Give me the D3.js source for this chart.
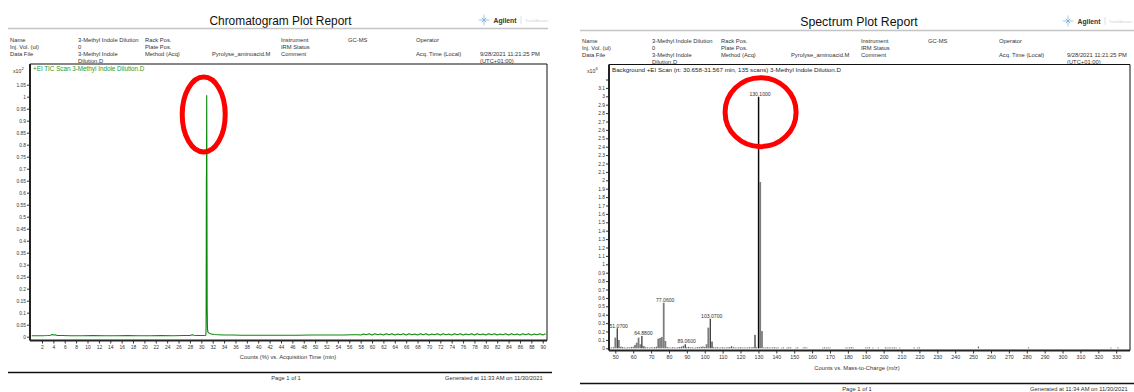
<!DOCTYPE html>
<html><head><meta charset="utf-8">
<script src="https://cdn.jsdelivr.net/npm/d3@7"></script>
<style>
html,body{margin:0;padding:0;background:#fff;}
svg{display:block;}
text{font-family:"Liberation Sans",Arial,sans-serif;}
</style></head><body>
<svg id="page" width="1134" height="392"></svg>
<script>
// ---------- report text ----------
const chromTitle = "Chromatogram Plot Report";
const specTitle = "Spectrum Plot Report";
// [column, row, text]
const headerCells = [
  [0,0,"Name"],[1,0,"3-Methyl Indole Dilution"],[2,0,"Rack Pos."],[4,0,"Instrument"],[5,0,"GC-MS"],[6,0,"Operator"],
  [0,1,"Inj. Vol. (ul)"],[1,1,"0"],[2,1,"Plate Pos."],[4,1,"IRM Status"],
  [0,2,"Data File"],[1,2,"3-Methyl Indole"],[2,2,"Method (Acq)"],[3,2,"Pyrolyse_aminoacid.M"],[4,2,"Comment"],[6,2,"Acq. Time (Local)"],[7,2,"9/28/2021 11:21:25 PM"],
  [1,3,"Dilution.D"],[7,3,"(UTC+01:00)"]
];
const chromLegend = "+EI TIC Scan 3-Methyl Indole Dilution.D";
const specLegend = "Background  +EI Scan (rt: 30.658-31.567 min, 135 scans) 3-Methyl Indole Dilution.D";
const chromXTitle = "Counts (%) vs. Acquisition Time (min)";
const specXTitle = "Counts vs. Mass-to-Charge (m/z)";
const chromFooter = ["Page 1 of 1", "Generated at 11:33 AM on 11/30/2021"];
const specFooter = ["Page 1 of 1", "Generated at 11:34 AM on 11/30/2021"];

// ---------- TIC chromatogram (counts ×10², %) ----------
const ticTime = [0.2,1,2,3,3.5,3.8,4.0,4.3,4.7,5.5,7,9,11,13,15,17,19,21,23,25,27,28,28.4,28.7,29.2,30,30.5,30.8,30.84,30.87,30.89,30.91,30.95,30.99,31.03,31.08,31.15,31.3,31.6,32.2,33,34,35.5,37,39,41,43,45,47,49,51,53,55,56.5,57.5,
  58,58.5,59,59.5,60,60.5,61,61.5,62,62.5,63,63.5,64,64.5,65,65.5,66,66.5,67,67.5,68,68.5,69,69.5,70,70.5,71,71.5,72,72.5,73,73.5,74,74.5,75,75.5,76,76.5,77,77.5,78,78.5,79,79.5,80,80.5,81,81.5,82,82.5,83,83.5,84,84.5,85,85.5,86,86.5,87,87.5,88,88.5,89,89.5,90,90.5];
const ticValue = [0.004,0.004,0.004,0.005,0.006,0.009,0.007,0.008,0.005,0.005,0.004,0.004,0.005,0.004,0.004,0.005,0.004,0.004,0.005,0.004,0.005,0.005,0.008,0.006,0.005,0.005,0.005,0.006,0.04,0.35,0.66,0.68,1.005,0.55,0.12,0.035,0.02,0.016,0.012,0.009,0.008,0.007,0.007,0.006,0.006,0.006,0.006,0.006,0.006,0.007,0.007,0.007,0.007,0.008,0.008,
  0.007,0.011,0.008,0.012,0.007,0.012,0.008,0.011,0.007,0.012,0.008,0.012,0.007,0.011,0.008,0.012,0.007,0.012,0.008,0.011,0.007,0.012,0.008,0.012,0.007,0.011,0.008,0.012,0.007,0.012,0.008,0.011,0.007,0.012,0.008,0.012,0.007,0.011,0.008,0.012,0.007,0.012,0.008,0.011,0.007,0.012,0.008,0.012,0.007,0.011,0.008,0.012,0.007,0.012,0.008,0.011,0.007,0.012,0.008,0.012,0.007,0.011,0.008,0.012,0.007,0.012,0.008,0.011,0.007,0.012];
const ticYTicks = [0,0.05,0.1,0.15,0.2,0.25,0.3,0.35,0.4,0.45,0.5,0.55,0.6,0.65,0.7,0.75,0.8,0.85,0.9,0.95,1,1.05];
const ticXTicks = [2,4,6,8,10,12,14,16,18,20,22,24,26,28,30,32,34,36,38,40,42,44,46,48,50,52,54,56,58,60,62,64,66,68,70,72,74,76,78,80,82,84,86,88,90];

// ---------- mass spectrum (counts ×10⁶) ----------
const profileMz    = [50, 52, 53, 61, 62, 63, 64, 65.8, 74, 75, 76, 77.06, 78, 101, 102, 130.1, 131, 132];
const profileAbund = [0.127, 0.099, 0.02, 0.04, 0.067, 0.127, 0.048, 0.028, 0.115, 0.123, 0.135, 0.543, 0.087, 0.048, 0.246, 2.99, 1.98, 0.205];
const centroidMz    = [51.07, 64.88, 89.06, 103.07, 104.07, 128.1, 130.1];
const centroidAbund = [0.238, 0.147, 0.048, 0.352, 0.08, 0.16, 2.995];
const labelledMz = [51.07, 64.88, 77.06, 89.06, 103.07, 130.1];
const noiseMz = [47,48,49,54,55,56,57,58,59,60,66,67,68,69,70,71,72,73,79,80,81,82,83,84,85,86,87,88,90,91,92,93,94,95,96,97,98,99,100,105,106,107,108,109,110,111,112,113,114,115,116,117,118,119,120,121,122,123,124,125,126,127,129,133,134,135,136,137,138,139,140,141,143,144,146,147,148,151,152,155,156,157,166,167,168,169,170,179,180,181,182,183,190,191,192,194,197,201,202,203,204,205,206,207,209,217,219,220,253,281,327,331];
const noiseAbund = [0.008,0.01,0.012,0.015,0.01,0.008,0.012,0.01,0.014,0.018,0.02,0.012,0.01,0.008,0.012,0.01,0.014,0.018,0.015,0.01,0.008,0.012,0.01,0.008,0.012,0.016,0.02,0.03,0.012,0.016,0.01,0.012,0.008,0.01,0.014,0.012,0.018,0.022,0.016,0.012,0.01,0.014,0.008,0.01,0.012,0.008,0.01,0.012,0.014,0.025,0.012,0.01,0.008,0.01,0.012,0.008,0.01,0.008,0.01,0.012,0.01,0.015,0.012,0.01,0.008,0.012,0.01,0.008,0.01,0.012,0.008,0.01,0.008,0.01,0.008,0.012,0.01,0.008,0.01,0.008,0.012,0.008,0.008,0.01,0.008,0.01,0.008,0.01,0.008,0.01,0.012,0.008,0.01,0.008,0.012,0.008,0.008,0.01,0.008,0.01,0.008,0.008,0.01,0.008,0.008,0.01,0.008,0.01,0.02,0.01,0.008,0.01];
const specYTicks = [0,0.1,0.2,0.3,0.4,0.5,0.6,0.7,0.8,0.9,1,1.1,1.2,1.3,1.4,1.5,1.6,1.7,1.8,1.9,2,2.1,2.2,2.3,2.4,2.5,2.6,2.7,2.8,2.9,3,3.1,3.2];
const specYLabelMax = 3.1;
const specXTicks = [50,60,70,80,90,100,110,120,130,140,150,160,170,180,190,200,210,220,230,240,250,260,270,280,290,300,310,320,330];

// ---------- drawing ----------
const svg = d3.select("#page");
const fmtTick = v => String(+v.toFixed(2));

function logo(cx, cy) {
  const g = svg.append("g").attr("transform", `translate(${cx},${cy})`);
  d3.range(8).forEach(i => {
    const a = i * Math.PI / 4;
    g.append("line").attr("x1", Math.cos(a) * 1.6).attr("y1", Math.sin(a) * 1.6)
      .attr("x2", Math.cos(a) * (i % 2 ? 3.6 : 5.5)).attr("y2", Math.sin(a) * (i % 2 ? 3.6 : 5.5))
      .attr("stroke", "#3b8ad0").attr("stroke-width", 0.9).attr("stroke-dasharray", "1,0.8");
  });
  g.append("circle").attr("r", 0.9).attr("fill", "#3b8ad0");
  g.append("text").attr("x", 9.5).attr("y", 2.5).attr("font-size", 6.8).attr("font-weight", "bold").attr("fill", "#333").text("Agilent");
  g.append("line").attr("x1", 37).attr("x2", 37).attr("y1", -4).attr("y2", 4).attr("stroke", "#e0e0e0");
  g.append("text").attr("x", 41).attr("y", 1.5).attr("font-size", 3.1).attr("fill", "#d0d0d0").text("Trusted Answers");
}

function header(p) {
  svg.append("text").attr("x", p.titleX).attr("y", p.titleY).attr("text-anchor", "middle")
    .attr("font-size", p.titleSize).attr("fill", "#111").text(p.title);
  svg.append("line").attr("x1", p.ruleX0).attr("x2", p.ruleX1).attr("y1", p.ruleY).attr("y2", p.ruleY)
    .attr("stroke", "#c4c4c4").attr("stroke-width", 1.6);
  logo(p.logoX, p.logoY);
  svg.append("g").selectAll("text").data(headerCells).join("text")
    .attr("x", d => p.colX[d[0]]).attr("y", d => p.rowY[d[1]])
    .attr("font-size", 5.8).attr("fill", "#333").text(d => d[2]);
}

function frame(b) {
  svg.append("line").attr("x1", b.x0).attr("x2", b.x1).attr("y1", b.y0).attr("y2", b.y0).attr("stroke", "#111").attr("stroke-width", 1);
  svg.append("line").attr("x1", b.x1).attr("x2", b.x1).attr("y1", b.y0).attr("y2", b.y1).attr("stroke", "#111").attr("stroke-width", 1);
  svg.append("line").attr("x1", b.x0).attr("x2", b.x0).attr("y1", b.y0).attr("y2", b.y1).attr("stroke", "#222").attr("stroke-width", 2);
  svg.append("line").attr("x1", b.x0).attr("x2", b.x1).attr("y1", b.y1).attr("y2", b.y1).attr("stroke", "#222").attr("stroke-width", 2);
}

function footer(f, texts) {
  svg.append("line").attr("x1", f.x0).attr("x2", f.x1).attr("y1", f.lineY).attr("y2", f.lineY).attr("stroke", "#111").attr("stroke-width", 1.6);
  svg.append("text").attr("x", f.pageX).attr("y", f.textY).attr("text-anchor", "middle").attr("font-size", 5.8).attr("fill", "#333").text(texts[0]);
  svg.append("text").attr("x", f.genX).attr("y", f.textY).attr("font-size", 5.8).attr("fill", "#333").text(texts[1]);
}

function ring(cx, cy, rx, ry) {
  svg.append("ellipse").attr("cx", cx).attr("cy", cy).attr("rx", rx).attr("ry", ry)
    .attr("fill", "none").attr("stroke", "#f00").attr("stroke-width", 5);
}

function styleAxis(g, size) {
  g.select(".domain").remove();
  g.selectAll("text").attr("font-size", size).attr("fill", "#333").style("font-family", "Liberation Sans, Arial, sans-serif");
  g.selectAll("line").attr("stroke", "#333");
}

// ===== Chromatogram =====
(function () {
  header({ title: chromTitle, titleSize: 11.9, titleX: 280.5, titleY: 25, ruleX0: 8, ruleX1: 548, ruleY: 28.5,
    logoX: 484, logoY: 20, colX: [10, 78, 145, 212, 281, 348, 416, 480], rowY: [42, 49, 56, 62.5] });
  const box = { x0: 30, x1: 547, y0: 64, y1: 340.5 };
  const x = d3.scaleLinear().domain([0, 90.75]).range([30.6, 547]);
  const y = d3.scaleLinear().domain([0, 1]).range([336.7, 96.7]);

  styleAxis(svg.append("g").attr("transform", `translate(${box.x0},0)`)
    .call(d3.axisLeft(y).tickValues(ticYTicks).tickFormat(fmtTick).tickSize(3).tickPadding(1)), 4.9);
  styleAxis(svg.append("g").attr("transform", `translate(0,${box.y1})`)
    .call(d3.axisBottom(x).tickValues(ticXTicks).tickFormat(d3.format("d")).tickSize(3).tickPadding(2)), 4.9);

  svg.append("text").attr("x", 13).attr("y", 72.5).attr("font-size", 5.2).attr("fill", "#333")
    .text("x10").append("tspan").attr("dy", -2.5).attr("font-size", 4.3).text("2");

  const line = d3.line().x((d, i) => x(ticTime[i])).y(d => y(d));
  svg.append("path").datum(ticValue).attr("d", line).attr("fill", "none")
    .attr("stroke", "#0a880a").attr("stroke-width", 1.1).attr("stroke-linejoin", "round");

  frame(box);
  svg.append("text").attr("x", 33).attr("y", 70.8).attr("font-size", 6.3).attr("fill", "#1f9a1f").text(chromLegend);
  svg.append("text").attr("x", 288).attr("y", 359).attr("text-anchor", "middle").attr("font-size", 5.8).attr("fill", "#333").text(chromXTitle);
  footer({ x0: 8, x1: 552, lineY: 372.5, pageX: 286, genX: 445, textY: 380 }, chromFooter);

  const pk = d3.maxIndex(ticValue);
  ring(x(ticTime[pk]) - 3, y(ticValue[pk]) + 19, 21.5, 37.5);
})();

// ===== Mass spectrum =====
(function () {
  header({ title: specTitle, titleSize: 12.3, titleX: 859, titleY: 26, ruleX0: 580, ruleX1: 1134, ruleY: 30.5,
    logoX: 1068, logoY: 21, colX: [582, 652, 721, 791, 861, 928, 999, 1067], rowY: [42.5, 49.5, 57, 63.5] });
  const box = { x0: 609, x1: 1130, y0: 64.5, y1: 350.5 };
  const x = d3.scaleLinear().domain([50, 330]).range([615.3, 1116.2]);
  const y = d3.scaleLinear().domain([0, 1]).range([348.3, 264.3]);

  styleAxis(svg.append("g").attr("transform", `translate(${box.x0},0)`)
    .call(d3.axisLeft(y).tickValues(specYTicks)
      .tickFormat(v => v > specYLabelMax + 1e-9 ? "" : fmtTick(v)).tickSize(3).tickPadding(1)), 4.9);
  styleAxis(svg.append("g").attr("transform", `translate(0,${box.y1})`)
    .call(d3.axisBottom(x).tickValues(specXTicks).tickFormat(d3.format("d")).tickSize(3).tickPadding(2)), 5.3);

  svg.append("text").attr("x", 587).attr("y", 72.5).attr("font-size", 5.2).attr("fill", "#333")
    .text("x10").append("tspan").attr("dy", -2.5).attr("font-size", 4.3).text("6");

  const bw = x(51) - x(50);
  // baseline noise
  svg.append("g").selectAll("rect").data(noiseMz).join("rect")
    .attr("x", d => x(d) - 0.6).attr("width", 1.2)
    .attr("y", (d, i) => y(noiseAbund[i])).attr("height", (d, i) => y(0) - y(noiseAbund[i]))
    .attr("fill", "#555");
  // profile bars
  svg.append("g").selectAll("rect").data(profileMz).join("rect")
    .attr("x", d => x(d) - bw / 2).attr("width", bw)
    .attr("y", (d, i) => y(profileAbund[i])).attr("height", (d, i) => y(0) - y(profileAbund[i]))
    .attr("fill", "#7d7d7d");
  // centroid sticks
  svg.append("g").selectAll("line").data(centroidMz).join("line")
    .attr("x1", d => x(d)).attr("x2", d => x(d))
    .attr("y1", (d, i) => y(centroidAbund[i])).attr("y2", y(0))
    .attr("stroke", "#000").attr("stroke-width", 1);

  frame(box);

  // peak labels
  const heightAt = mz => {
    const a = centroidMz.indexOf(mz), b = profileMz.indexOf(mz);
    return Math.max(a < 0 ? 0 : centroidAbund[a], b < 0 ? 0 : profileAbund[b]);
  };
  svg.append("g").selectAll("text").data(labelledMz).join("text")
    .attr("x", d => x(d) + 1.5).attr("y", d => y(heightAt(d)) - 0.8).attr("text-anchor", "middle")
    .attr("font-size", 5.1).attr("fill", "#333").text(d => d3.format(".4f")(d));

  svg.append("text").attr("x", 612).attr("y", 71.5).attr("font-size", 6.2).attr("fill", "#222").text(specLegend);
  svg.append("text").attr("x", 857).attr("y", 370).attr("text-anchor", "middle").attr("font-size", 5.8).attr("fill", "#333").text(specXTitle);
  footer({ x0: 580, x1: 1134, lineY: 383.5, pageX: 857, genX: 1030, textY: 391 }, specFooter);

  const top = profileMz.indexOf(130.1);
  ring(x(130.1) + 2, y(profileAbund[top]) + 15, 35.5, 34.5);
})();
</script>
</body></html>
